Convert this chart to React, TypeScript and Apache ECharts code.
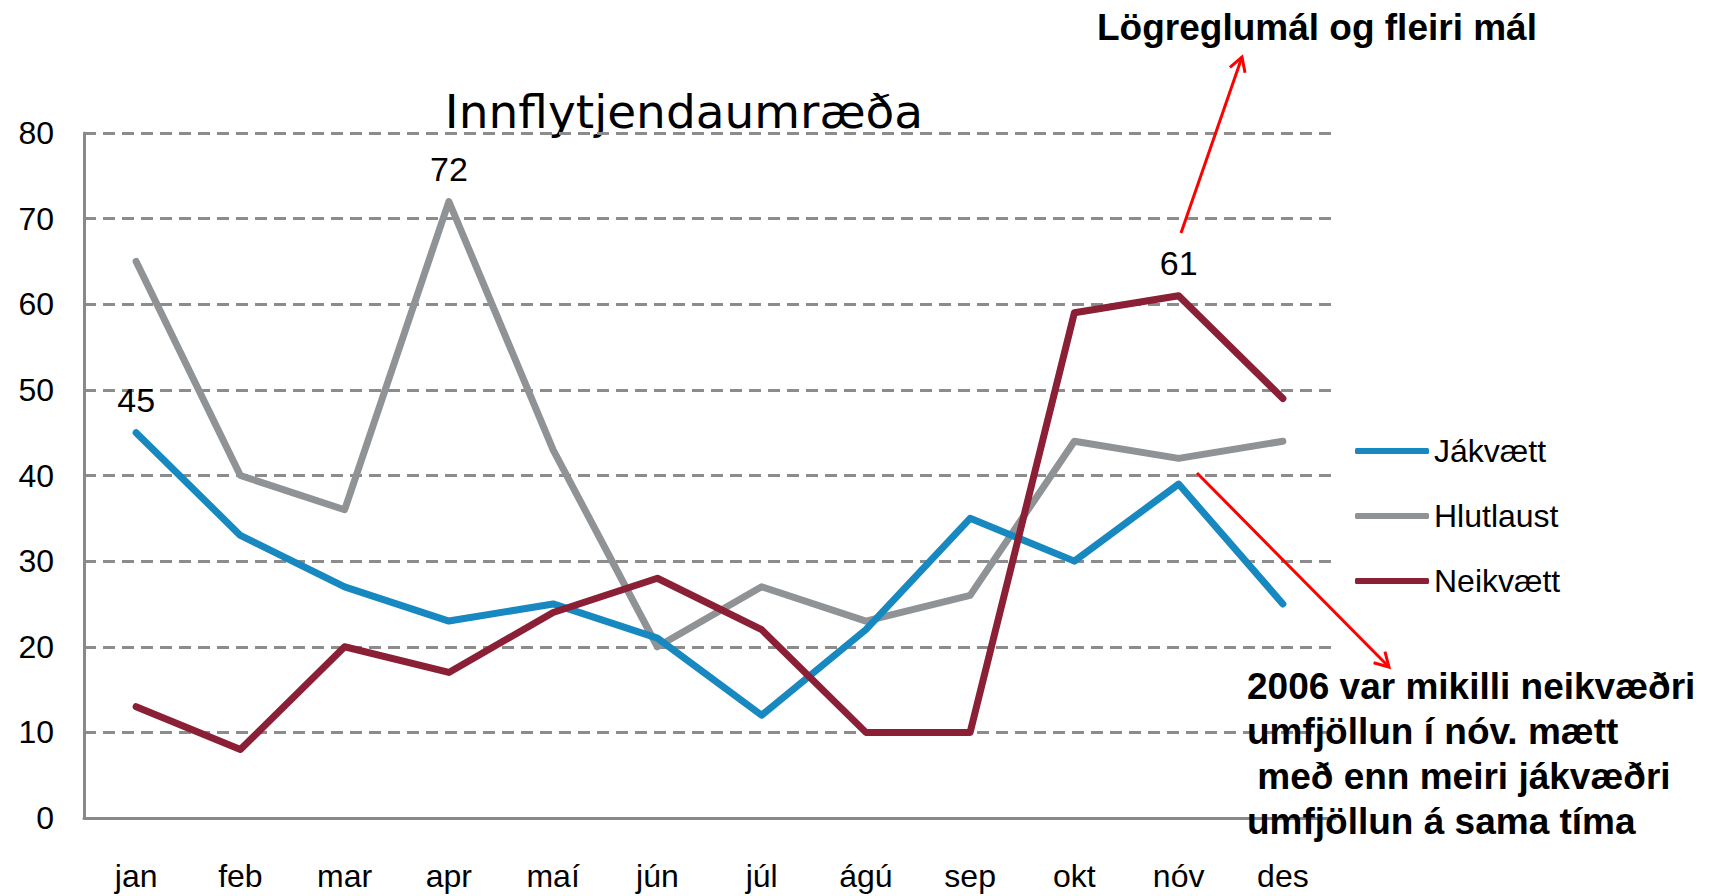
import React, { useEffect, useRef } from "react";
import * as echarts from "echarts";

const months = ["jan", "feb", "mar", "apr", "maí", "jún", "júl", "ágú", "sep", "okt", "nóv", "des"];
const jakvaett = [45, 33, 27, 23, 25, 21, 12, 22, 35, 30, 39, 25];
const hlutlaust = [65, 40, 36, 72, 43, 20, 27, 23, 26, 44, 42, 44];
const neikvaett = [13, 8, 20, 17, 24, 28, 22, 10, 10, 59, 61, 49];
// which point of each series carries a value label
const labelIdxJ = 0;
const labelIdxH = 3;
const labelIdxN = 10;
const yTicks = { min: 0, max: 80, interval: 10 };

const FONT = "'Liberation Sans', Arial, sans-serif";

function arrowHead(x1: number, y1: number, x2: number, y2: number, len: number, ang: number) {
  const a = Math.atan2(y2 - y1, x2 - x1);
  const p1 = [x2 - len * Math.cos(a - ang), y2 - len * Math.sin(a - ang)];
  const p2 = [x2 - len * Math.cos(a + ang), y2 - len * Math.sin(a + ang)];
  return [p1, [x2, y2], p2];
}

function withLabel(arr: number[], idx: number) {
  return arr.map((v, i) =>
    i === idx
      ? { value: v, label: { show: true, position: "top", distance: 14, fontSize: 34, color: "#000", fontFamily: FONT } }
      : v
  );
}

export default function App() {
  const ref = useRef<HTMLDivElement>(null);
  useEffect(() => {
    if (!ref.current) return;
    const chart = echarts.init(ref.current, undefined, { renderer: "svg" });
    const red = "#ff0000";
    const a1 = { x1: 1181, y1: 233, x2: 1242, y2: 57 };
    const a2 = { x1: 1197, y1: 473, x2: 1389, y2: 667 };
    const lineStyleBase = { width: 7, cap: "round", join: "round" };
    const sym = { symbol: "circle", symbolSize: 4, showSymbol: true, showAllSymbol: true };
    const colJ = "#1788c0";
    const colH = "#909396";
    const colN = "#8a1f35";
    chart.setOption({
      animation: false,
      backgroundColor: "#fff",
      textStyle: { fontFamily: FONT },
      grid: { left: 84, right: 377, top: 133, bottom: 78 },
      xAxis: {
        type: "category",
        data: months,
        boundaryGap: true,
        axisLine: { lineStyle: { color: "#898989", width: 3 } },
        axisTick: { show: false },
        axisLabel: { fontSize: 32, color: "#000", margin: 42, fontFamily: FONT },
      },
      yAxis: {
        type: "value",
        min: yTicks.min,
        max: yTicks.max,
        interval: yTicks.interval,
        axisLine: { show: true, lineStyle: { color: "#898989", width: 3 } },
        axisTick: { show: false },
        axisLabel: { fontSize: 32, color: "#000", margin: 30, fontFamily: FONT },
        splitLine: { lineStyle: { color: "#8c8c8c", width: 3, type: [12, 7] } },
      },
      legend: {
        orient: "vertical",
        left: 1350,
        top: 430,
        itemWidth: 74,
        itemHeight: 6,
        itemGap: 33,
        icon: "roundRect",
        textStyle: { fontSize: 32, color: "#000", fontFamily: FONT },
        data: ["Jákvætt", "Hlutlaust", "Neikvætt"],
      },
      series: [
        {
          name: "Jákvætt",
          type: "line",
          data: withLabel(jakvaett, labelIdxJ),
          ...sym,
          color: colJ,
          itemStyle: { color: colJ },
          lineStyle: { ...lineStyleBase, color: colJ },
          z: 3,
        },
        {
          name: "Hlutlaust",
          type: "line",
          data: withLabel(hlutlaust, labelIdxH),
          ...sym,
          color: colH,
          itemStyle: { color: colH },
          lineStyle: { ...lineStyleBase, color: colH },
          z: 2,
        },
        {
          name: "Neikvætt",
          type: "line",
          data: withLabel(neikvaett, labelIdxN),
          ...sym,
          color: colN,
          itemStyle: { color: colN },
          lineStyle: { ...lineStyleBase, color: colN },
          z: 4,
        },
      ],
      graphic: [
        {
          type: "text",
          x: 684,
          y: 111,
          style: {
            text: "Innflytjendaumræða",
            fontSize: 47,
            fontFamily: "'DejaVu Sans', sans-serif",
            fill: "#000",
            textAlign: "center",
            textVerticalAlign: "middle",
          },
        },
        {
          type: "text",
          x: 1097,
          y: 27,
          style: {
            text: "Lögreglumál og fleiri mál",
            fontSize: 37,
            fontWeight: "bold",
            fontFamily: FONT,
            fill: "#000",
            textAlign: "left",
            textVerticalAlign: "middle",
          },
        },
        {
          type: "text",
          x: 1247,
          y: 664,
          style: {
            text: "2006 var mikilli neikvæðri\numfjöllun í nóv. mætt\n með enn meiri jákvæðri\numfjöllun á sama tíma",
            fontSize: 37,
            lineHeight: 45,
            fontWeight: "bold",
            fontFamily: FONT,
            fill: "#000",
            textAlign: "left",
            textVerticalAlign: "top",
          },
          z: 10,
        },
        {
          type: "line",
          shape: a1,
          style: { stroke: red, lineWidth: 3 },
          z: 10,
        },
        {
          type: "polyline",
          shape: { points: arrowHead(a1.x1, a1.y1, a1.x2, a1.y2, 16, Math.PI / 6) },
          style: { stroke: red, lineWidth: 3, fill: null },
          z: 10,
        },
        {
          type: "line",
          shape: a2,
          style: { stroke: red, lineWidth: 3 },
          z: 10,
        },
        {
          type: "polyline",
          shape: { points: arrowHead(a2.x1, a2.y1, a2.x2, a2.y2, 16, Math.PI / 6) },
          style: { stroke: red, lineWidth: 3, fill: null },
          z: 10,
        },
      ],
    });
    return () => chart.dispose();
  }, []);
  return <div ref={ref} style={{ width: 1712, height: 896, position: "absolute", left: 0, top: 0 }} />;
}
